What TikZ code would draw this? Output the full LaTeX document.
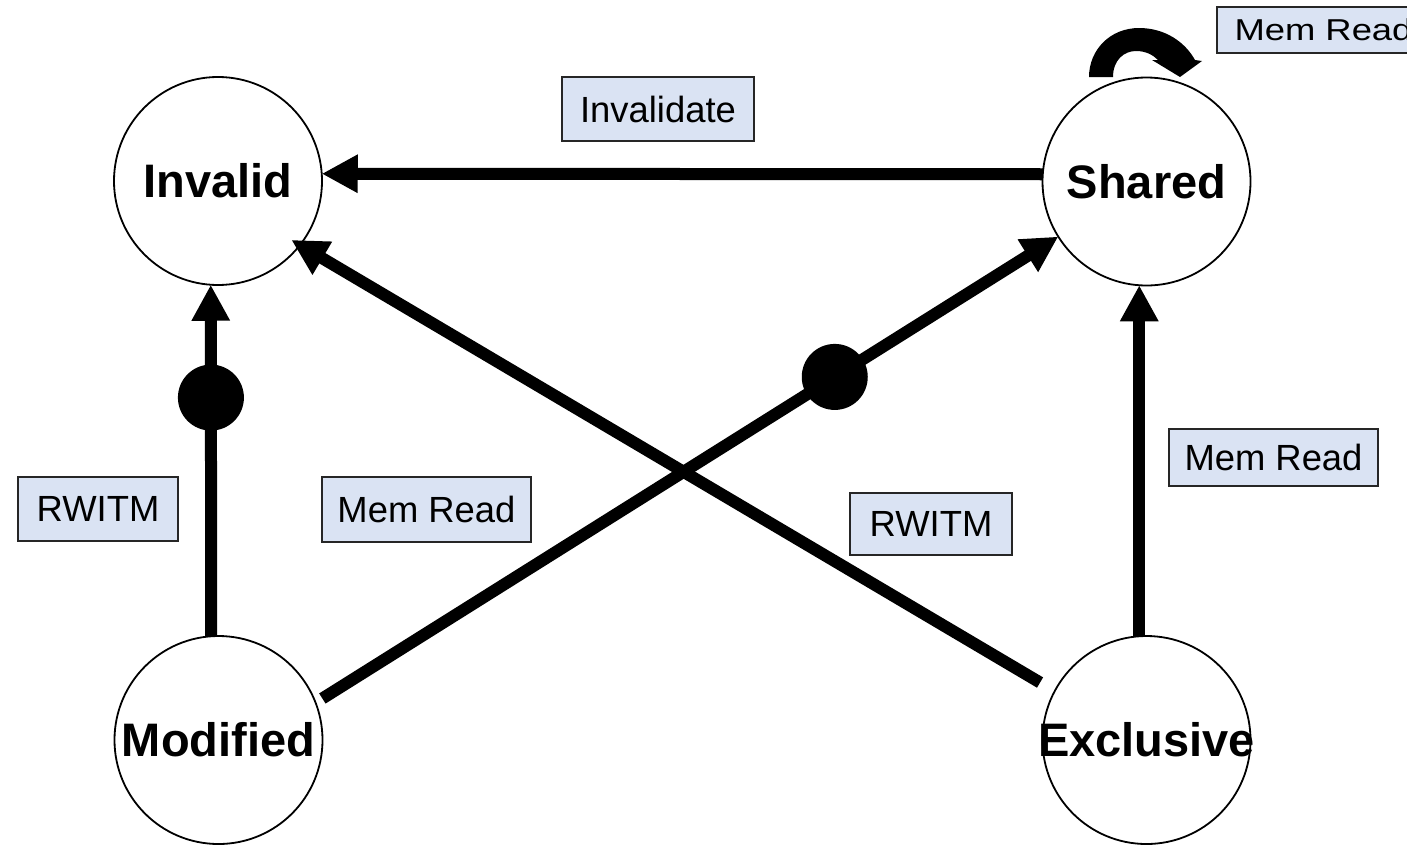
\documentclass[tikz,border=0pt]{standalone}
\usepackage{fontspec}
\setmainfont{Liberation Sans}
\usepackage{graphicx}
\usetikzlibrary{arrows.meta}
\definecolor{lblue}{RGB}{218,227,243}
\begin{document}
\begin{tikzpicture}[x=1pt,y=-1pt,
  state/.style={circle, draw, line width=1.8pt, minimum size=208pt, inner sep=0pt, outer sep=0pt,
                font=\fontsize{47}{56}\selectfont\bfseries},
  lbl/.style={draw=black!85, line width=1.5pt, fill=lblue, inner sep=0pt,
              font=\fontsize{36.4}{44}\selectfont},
  arr/.style={line width=12pt, -{Triangle[length=36pt 0 0,width=36pt 0 0]}},
  dotnode/.style={circle, fill=black, minimum size=66pt, inner sep=0pt}]
\useasboundingbox (0,0) rectangle (1407,844);

% states
\node[state] (Invalid) at (218,181) {\makebox[0pt]{Invalid}};
\node[state] (Shared) at (1146.5,181.5) {\makebox[0pt]{Shared}};
\node[state] (Modified) at (218.5,740) {\makebox[0pt]{Modified}};
\node[state] (Exclusive) at (1146.5,740) {\makebox[0pt]{Exclusive}};

% transitions
\draw[arr] (Shared.176) -- (Invalid.4);
\draw[arr] (Modified.94) -- node[dotnode,pos=0.679] (dotA) {} (Invalid.266);
\draw[arr] (Exclusive.94) -- (Shared.266);
\draw[arr, shorten <=8pt] (Modified.21) -- node[dotnode,pos=0.699] (dotB) {} (Shared.212);
\draw[arr, shorten <=17pt, shorten >=-10pt] (Exclusive.152) -- (Invalid.322);

% self loop on Shared
\fill (1089,77) -- (1113,77) .. controls (1113,60) and (1124,51) .. (1136,51)
  .. controls (1146,51) and (1153,55) .. (1158,60) -- (1152,60) -- (1180,77) -- (1202,61) -- (1195,60)
  .. controls (1185,42) and (1165,28) .. (1139,28) .. controls (1110,28) and (1089,50) .. (1089,77) -- cycle;

% labels
\node[lbl, minimum width=192pt, minimum height=64pt] (lInv) at (658,109) {Invalidate};
\node[lbl, minimum width=209pt, minimum height=57pt] (lMR1) at (1273.5,457.5) {Mem Read};
\node[lbl, minimum width=160pt, minimum height=64pt] (lRW1) at (98,509) {RWITM};
\node[lbl, minimum width=209pt, minimum height=65pt] (lMR2) at (426.5,509.5) {Mem Read};
\node[lbl, minimum width=162pt, minimum height=62pt] (lRW2) at (931,524) {RWITM};
\node[lbl, minimum width=213pt, minimum height=46pt] (lMR3) at (1323.5,30) {\scalebox{1}[0.83]{Mem Read}};
\end{tikzpicture}
\end{document}
